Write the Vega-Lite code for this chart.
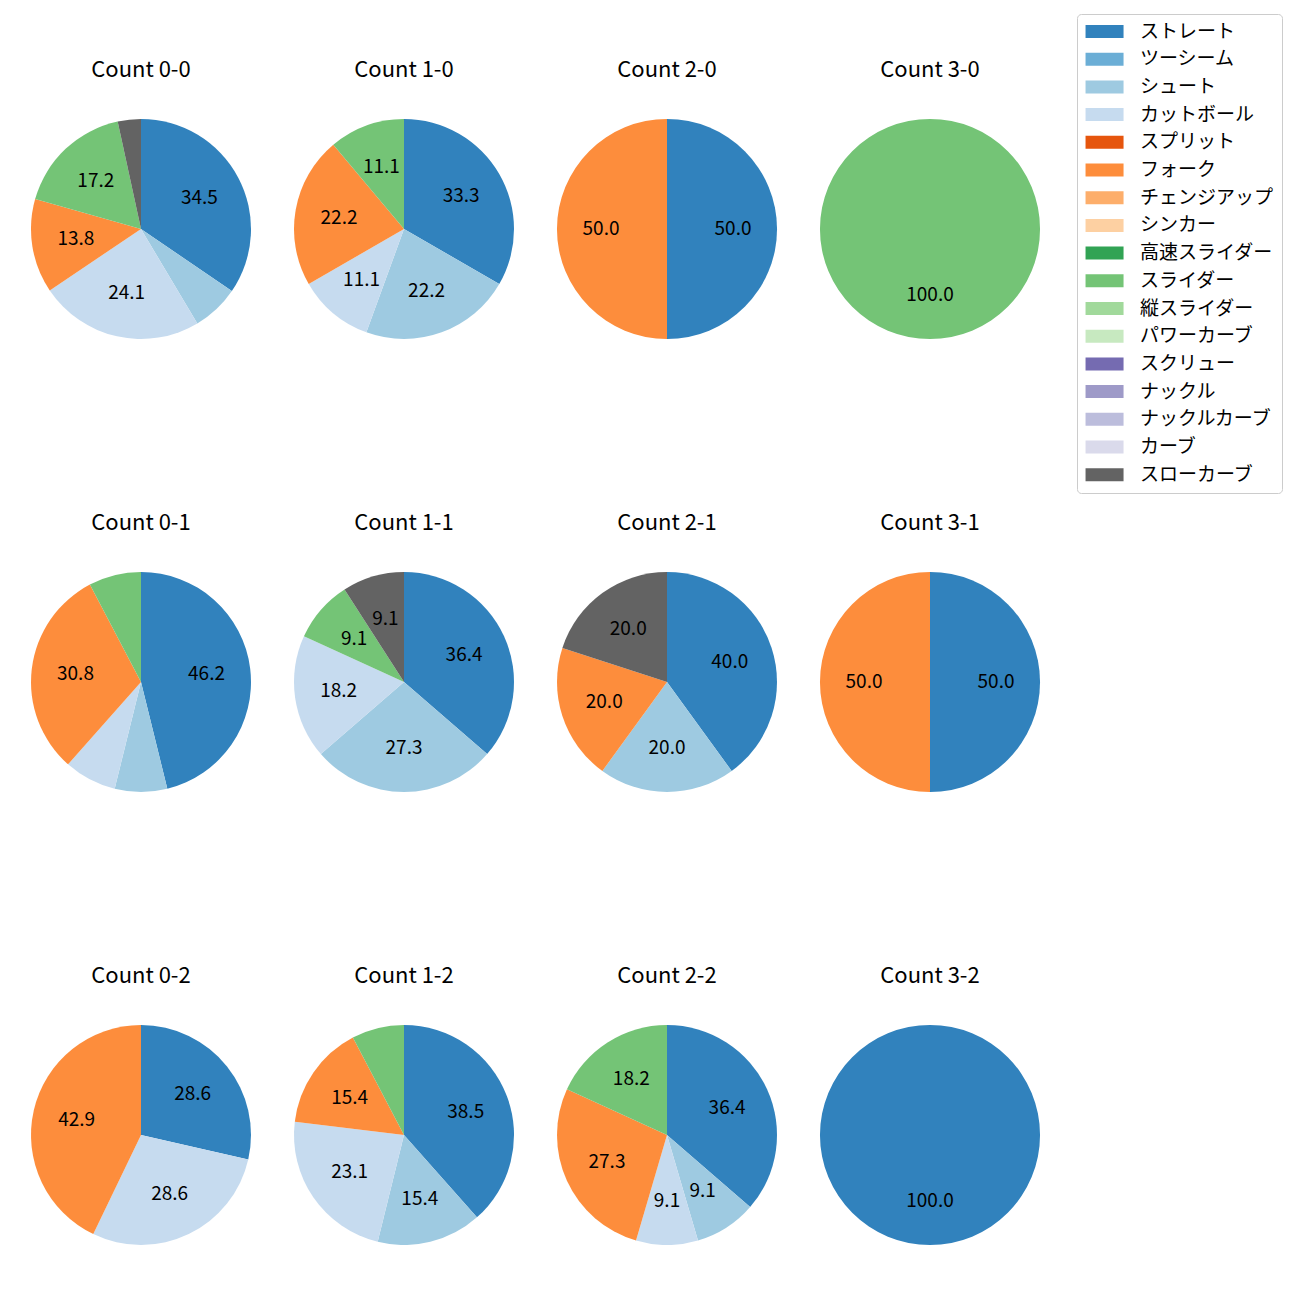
{
  "$schema": "https://vega.github.io/schema/vega-lite/v6.json",
  "padding": {"left": 31, "top": 13, "right": 0, "bottom": 0},
  "background": "white",
  "data": {"values": [
    {"count": "Count 0-0", "pitch": "ストレート", "idx": 0, "pct": 34.5},
    {"count": "Count 0-0", "pitch": "シュート", "idx": 2, "pct": 6.9},
    {"count": "Count 0-0", "pitch": "カットボール", "idx": 3, "pct": 24.1},
    {"count": "Count 0-0", "pitch": "フォーク", "idx": 5, "pct": 13.8},
    {"count": "Count 0-0", "pitch": "スライダー", "idx": 9, "pct": 17.2},
    {"count": "Count 0-0", "pitch": "スローカーブ", "idx": 16, "pct": 3.4},
    {"count": "Count 1-0", "pitch": "ストレート", "idx": 0, "pct": 33.3},
    {"count": "Count 1-0", "pitch": "シュート", "idx": 2, "pct": 22.2},
    {"count": "Count 1-0", "pitch": "カットボール", "idx": 3, "pct": 11.1},
    {"count": "Count 1-0", "pitch": "フォーク", "idx": 5, "pct": 22.2},
    {"count": "Count 1-0", "pitch": "スライダー", "idx": 9, "pct": 11.1},
    {"count": "Count 2-0", "pitch": "ストレート", "idx": 0, "pct": 50.0},
    {"count": "Count 2-0", "pitch": "フォーク", "idx": 5, "pct": 50.0},
    {"count": "Count 3-0", "pitch": "スライダー", "idx": 9, "pct": 100.0},
    {"count": "Count 0-1", "pitch": "ストレート", "idx": 0, "pct": 46.2},
    {"count": "Count 0-1", "pitch": "シュート", "idx": 2, "pct": 7.7},
    {"count": "Count 0-1", "pitch": "カットボール", "idx": 3, "pct": 7.7},
    {"count": "Count 0-1", "pitch": "フォーク", "idx": 5, "pct": 30.8},
    {"count": "Count 0-1", "pitch": "スライダー", "idx": 9, "pct": 7.7},
    {"count": "Count 1-1", "pitch": "ストレート", "idx": 0, "pct": 36.4},
    {"count": "Count 1-1", "pitch": "シュート", "idx": 2, "pct": 27.3},
    {"count": "Count 1-1", "pitch": "カットボール", "idx": 3, "pct": 18.2},
    {"count": "Count 1-1", "pitch": "スライダー", "idx": 9, "pct": 9.1},
    {"count": "Count 1-1", "pitch": "スローカーブ", "idx": 16, "pct": 9.1},
    {"count": "Count 2-1", "pitch": "ストレート", "idx": 0, "pct": 40.0},
    {"count": "Count 2-1", "pitch": "シュート", "idx": 2, "pct": 20.0},
    {"count": "Count 2-1", "pitch": "フォーク", "idx": 5, "pct": 20.0},
    {"count": "Count 2-1", "pitch": "スローカーブ", "idx": 16, "pct": 20.0},
    {"count": "Count 3-1", "pitch": "ストレート", "idx": 0, "pct": 50.0},
    {"count": "Count 3-1", "pitch": "フォーク", "idx": 5, "pct": 50.0},
    {"count": "Count 0-2", "pitch": "ストレート", "idx": 0, "pct": 28.6},
    {"count": "Count 0-2", "pitch": "カットボール", "idx": 3, "pct": 28.6},
    {"count": "Count 0-2", "pitch": "フォーク", "idx": 5, "pct": 42.9},
    {"count": "Count 1-2", "pitch": "ストレート", "idx": 0, "pct": 38.5},
    {"count": "Count 1-2", "pitch": "シュート", "idx": 2, "pct": 15.4},
    {"count": "Count 1-2", "pitch": "カットボール", "idx": 3, "pct": 23.1},
    {"count": "Count 1-2", "pitch": "フォーク", "idx": 5, "pct": 15.4},
    {"count": "Count 1-2", "pitch": "スライダー", "idx": 9, "pct": 7.7},
    {"count": "Count 2-2", "pitch": "ストレート", "idx": 0, "pct": 36.4},
    {"count": "Count 2-2", "pitch": "シュート", "idx": 2, "pct": 9.1},
    {"count": "Count 2-2", "pitch": "カットボール", "idx": 3, "pct": 9.1},
    {"count": "Count 2-2", "pitch": "フォーク", "idx": 5, "pct": 27.3},
    {"count": "Count 2-2", "pitch": "スライダー", "idx": 9, "pct": 18.2},
    {"count": "Count 3-2", "pitch": "ストレート", "idx": 0, "pct": 100.0}
  ]},
  "facet": {
    "field": "count",
    "type": "nominal",
    "sort": ["Count 0-0", "Count 1-0", "Count 2-0", "Count 3-0", "Count 0-1", "Count 1-1", "Count 2-1", "Count 3-1", "Count 0-2", "Count 1-2", "Count 2-2", "Count 3-2"],
    "header": {"title": null, "labelFont": "Noto Sans CJK JP", "labelFontSize": 22, "labelColor": "black", "labelPadding": 37}
  },
  "columns": 4,
  "spacing": {"column": 43, "row": 173},
  "spec": {
    "width": 220,
    "height": 220,
    "layer": [
      {
        "mark": {"type": "arc", "strokeWidth": 0},
        "encoding": {
          "theta": {"field": "pct", "type": "quantitative", "stack": "normalize"},
          "order": {"field": "idx", "type": "quantitative", "sort": "ascending"},
          "color": {
            "field": "pitch",
            "type": "nominal",
            "scale": {
              "domain": ["ストレート", "ツーシーム", "シュート", "カットボール", "スプリット", "フォーク", "チェンジアップ", "シンカー", "高速スライダー", "スライダー", "縦スライダー", "パワーカーブ", "スクリュー", "ナックル", "ナックルカーブ", "カーブ", "スローカーブ"],
              "range": ["#3182bd", "#6baed6", "#9ecae1", "#c6dbef", "#e6550d", "#fd8d3c", "#fdae6b", "#fdd0a2", "#31a354", "#74c476", "#a1d99b", "#c7e9c0", "#756bb1", "#9e9ac8", "#bcbddc", "#dadaeb", "#636363"]
            },
            "legend": {
              "title": null,
              "orient": "none",
              "legendX": 1046,
              "legendY": -105,
              "symbolType": "M-1.28,-0.93H4.15V0.93H-1.28Z",
              "symbolSize": 196,
              "symbolStrokeWidth": 0,
              "symbolOpacity": 1,
              "labelFont": "Noto Sans CJK JP",
              "labelFontSize": 19,
              "labelColor": "black",
              "labelOffset": 36,
              "rowPadding": 7.7,
              "padding": 8,
              "strokeColor": "#cccccc",
              "fillColor": "white",
              "cornerRadius": 4,
              "labelLimit": 300
            }
          }
        }
      },
      {
        "mark": {"type": "text", "radius": 66, "font": "Noto Sans CJK JP", "fontSize": 19, "color": "black"},
        "encoding": {
          "theta": {"field": "pct", "type": "quantitative", "stack": "normalize"},
          "order": {"field": "idx", "type": "quantitative", "sort": "ascending"},
          "text": {"condition": {"test": "datum.pct < 8", "value": ""}, "field": "pct", "type": "quantitative", "format": ".1f"}
        }
      }
    ]
  },
  "config": {"view": {"stroke": null}}
}
